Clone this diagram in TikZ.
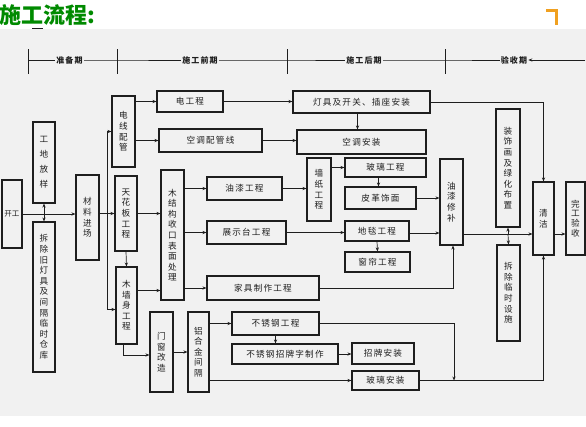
\documentclass[tikz,border=0pt]{standalone}
\usepackage{fontspec}
\setmainfont{Noto Sans CJK SC}
\newfontfamily\cjk{Noto Sans CJK SC}
\newfontfamily\cjkw[LetterSpace=14]{Noto Sans CJK SC}
\usetikzlibrary{arrows.meta,calc}
\definecolor{cTitle}{HTML}{008A00}
\definecolor{cMark}{HTML}{F0A020}
\definecolor{cScan}{HTML}{F1F1F1}
\definecolor{cInk}{HTML}{1E1E1E}
\tikzset{
  hbox/.style={draw=cInk, line width=1.1pt, inner sep=0pt, text=cInk,
    font=\cjkw\fontsize{8.6}{10}\selectfont},
  vbox/.style={hbox, align=center, font=\cjk\fontsize{8.6}{10.6}\selectfont},
  flow/.style={-{Stealth[length=4pt,width=3.2pt]}, line width=0.7pt, draw=cInk},
  phase/.style={font=\cjkw\bfseries\fontsize{8}{10}\selectfont, text=cInk, fill=cScan, inner sep=1pt},
  tickline/.style={line width=0.7pt, draw=cInk},
}

\begin{document}
\begin{tikzpicture}[x=1pt, y=-1pt]
    \useasboundingbox (0,0) rectangle (586,426);
    % scanned sheet and title
    \fill[cScan] (0,29) rectangle (586,416);
    \node[anchor=west, inner sep=0pt, text=cTitle, font=\cjk\bfseries\fontsize{22}{24}\selectfont] (title) at (-1,15) {施工流程:};
    \draw[line width=1pt, cInk] (32,28.5) -- (43,28.5);
    \draw[cMark, line width=3pt] (546,10) -- (556,10) -- (556,25);
    % phases
    \foreach \x/\n in {28/t0,117/t1,287/t2,445/t3} {
      \coordinate (\n) at (\x,60);
      \draw[tickline] (\x,49) -- (\x,74);
    }
    \coordinate (te) at (585,60);
    \node[phase] (p1) at (69.5,60) {准备期};
    \node[phase] (p2) at (200,60) {施工前期};
    \node[phase] (p3) at (364,60) {施工后期};
    \node[phase] (p4) at (514,60) {验收期};
    \draw[tickline] (t0) -- (p1) -- (t1) -- (p2) -- (t2) -- (p3) -- (t3) -- (p4);
    \draw[flow] (te) -- (p4);
    % preparation
    \node[hbox, minimum width=20pt, minimum height=68pt, font=\cjk\fontsize{7.5}{8}\selectfont] (kg) at (12,214) {开工};
    \node[vbox, minimum width=22pt, minimum height=81pt, font=\cjk\fontsize{8.6}{15}\selectfont] (fy) at (44,162.5) {工\\地\\放\\样};
    \node[vbox, minimum width=22pt, minimum height=150pt] (cj) at (44,297) {拆\\除\\旧\\灯\\具\\及\\间\\隔\\临\\时\\仓\\库};
    \node[vbox, minimum width=23pt, minimum height=85pt] (cl) at (87.5,217.5) {材\\料\\进\\场};
    % early works
    \node[vbox, minimum width=23pt, minimum height=71pt] (dx) at (123.5,131.5) {电\\线\\配\\管};
    \node[vbox, minimum width=22pt, minimum height=75pt] (th) at (126,213.5) {天\\花\\板\\工\\程};
    \node[vbox, minimum width=21pt, minimum height=77pt] (mq) at (126.5,305.5) {木\\墙\\身\\工\\程};
    \node[vbox, minimum width=23pt, minimum height=130pt] (mj) at (172.5,235) {木\\结\\构\\收\\口\\表\\面\\处\\理};
    \node[vbox, minimum width=23pt, minimum height=80pt] (mc) at (161.5,352) {门\\窗\\改\\造};
    \node[vbox, minimum width=21pt, minimum height=80pt] (lh) at (198.5,352) {铝\\合\\金\\间\\隔};
    \node[hbox, minimum width=66pt, minimum height=21pt] (dg) at (190,101.5) {电工程};
    \node[hbox, minimum width=103pt, minimum height=23pt] (kp) at (210.5,140.5) {空调配管线};
    \node[hbox, minimum width=75pt, minimum height=23pt] (yq) at (244.5,188.5) {油漆工程};
    \node[hbox, minimum width=79pt, minimum height=23pt] (zs) at (246.5,232.5) {展示台工程};
    \node[hbox, minimum width=112pt, minimum height=24pt] (jj) at (263,288) {家具制作工程};
    \node[hbox, minimum width=87pt, minimum height=23pt] (bx) at (275.5,323.5) {不锈钢工程};
    \node[hbox, minimum width=106pt, minimum height=20pt] (zp) at (285,354) {不锈钢招牌字制作};
    % late works
    \node[hbox, minimum width=137pt, minimum height=22pt] (dj) at (361.5,102) {灯具及开关、插座安装};
    \node[hbox, minimum width=129pt, minimum height=24pt] (ka) at (361.5,142) {空调安装};
    \node[vbox, minimum width=24pt, minimum height=63pt] (qz) at (319,189.5) {墙\\纸\\工\\程};
    \node[hbox, minimum width=81pt, minimum height=19pt] (bl) at (385.5,167.5) {玻璃工程};
    \node[hbox, minimum width=71pt, minimum height=22pt] (pg) at (380.5,198) {皮革饰面};
    \node[hbox, minimum width=64pt, minimum height=20pt] (dt) at (377,231) {地毯工程};
    \node[hbox, minimum width=65pt, minimum height=20pt] (ch) at (377.5,262) {窗帘工程};
    \node[hbox, minimum width=62pt, minimum height=21pt] (za) at (383,353.5) {招牌安装};
    \node[hbox, minimum width=67pt, minimum height=19pt] (ba) at (385.5,380.5) {玻璃安装};
    \node[vbox, minimum width=23pt, minimum height=86pt] (yx) at (451.5,202) {油\\漆\\修\\补};
    % acceptance
    \node[vbox, minimum width=24pt, minimum height=118pt] (zh) at (508,168) {装\\饰\\画\\及\\绿\\化\\布\\置};
    \node[vbox, minimum width=23pt, minimum height=96pt] (cs) at (508.5,293) {拆\\除\\临\\时\\设\\施};
    \node[vbox, minimum width=21pt, minimum height=73pt] (qj) at (543.5,218.5) {清\\洁};
    \node[vbox, minimum width=19pt, minimum height=73pt, font=\cjk\fontsize{8.6}{9.8}\selectfont] (wg) at (575.5,218.5) {完\\工\\验\\收};
    % connectors
    \coordinate (j1) at (fy.south |- kg.east);
    \draw[flow] (kg.east) -- (kg.east -| cl.west);
    \draw[flow] (j1) -- (fy.south);
    \draw[flow] (j1) -- (cj.north);
    \draw[flow] (cl.east |- th.west) -- (th.west);
    \coordinate (s1) at ($(cl.east)!0.5!(th.west)$);
    \draw[flow] (s1) |- (dx.west);
    \draw[flow] (s1) |- ([yshift=-4pt]mq.west);
    \draw[flow] (dx.east |- dg.west) -- (dg.west);
    \draw[flow] (dx.east |- kp.west) -- (kp.west);
    \draw[flow] (dg.east) -- (dg.east -| dj.west);
    \draw[flow] (kp.east) -- (kp.east -| ka.west);
    \draw[flow] ([xshift=-4pt]dj.south) -- ([xshift=-4pt]ka.north);
    \draw[flow] (dj.east) -| (qj.north);
    \draw[flow] (th.east) -- (th.east -| mj.west);
    \draw[flow] ([yshift=15pt]mq.east) -- ([yshift=15pt]mq.east -| mj.west);
    \draw[flow] (th.south) -- (mq.north);
    \draw[flow] ([xshift=-3pt]mq.south) |- ([yshift=-3pt]mc.west);
    \draw[flow] (mj.east |- yq.west) -- (yq.west);
    \draw[flow] (mj.east |- zs.west) -- (zs.west);
    \draw[flow] (mj.east |- jj.west) -- (jj.west);
    \draw[flow] (yq.east) -- (yq.east -| qz.west);
    \draw[flow] (qz.east |- bl.west) -- (bl.west);
    \draw[flow] ([xshift=-2pt]bl.south -| pg.north) -- ([xshift=-2pt]pg.north);
    \draw[flow] (pg.east) -- (pg.east -| yx.west);
    \draw[flow] (zs.east) -- (zs.east -| dt.west);
    \draw[flow] ([yshift=-2pt]dt.east) -- ([yshift=-2pt]dt.east -| yx.west);
    \draw[flow] (dt.south) -- (ch.north);
    \draw[flow] (jj.east) -| ([xshift=1.5pt]yx.south);
    \coordinate (ln) at ([yshift=-32pt]yx.east);
    \draw[flow] (ln) -- (ln -| qj.west);
    \draw[flow] (ln -| qj.east) -- (ln -| wg.west);
    \coordinate (j2) at (ln -| zh.south);
    \draw[flow] (j2) -- (zh.south);
    \draw[flow] (j2) -- (cs.north);
    \draw[flow] (mc.east) -- (mc.east -| lh.west);
    \draw[flow] (lh.east |- bx.west) -- (bx.west);
    \draw[flow] (bx.south) -- (bx.south |- zp.north);
    \draw[flow] (zp.east) -- (zp.east -| za.west);
    \draw[flow] (lh.east |- ba.west) -- (ba.west);
    \draw[flow] (bx.east) -| ([xshift=2.5pt]ba.east -| yx.south);
    \draw[flow] (ba.east) -| (qj.south);
  \end{tikzpicture}
\end{document}
